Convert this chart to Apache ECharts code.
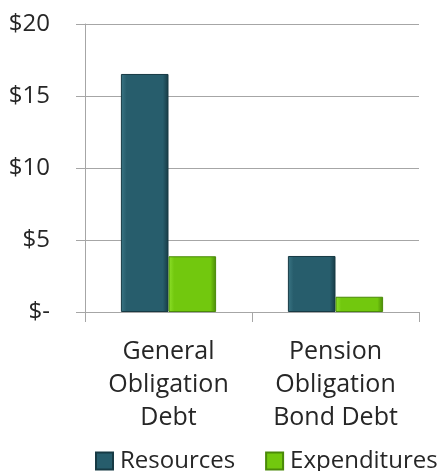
<!DOCTYPE html>
<html>
<head>
<meta charset="utf-8">
<script src="https://cdn.jsdelivr.net/npm/echarts@6/dist/echarts.min.js"></script>
<style>html,body{margin:0;padding:0;background:#fff}#c{width:440px;height:471px}</style>
</head>
<body>
<div id="c"></div>
<script>
const categories = ["General\nObligation\nDebt", "Pension\nObligation\nBond Debt"];
const resources = [16.53, 3.89];
const expenditures = [3.87, 1.06];
const yTicks = [0, 5, 10, 15, 20];
const yTickLabels = ["$-", "$5", "$10", "$15", "$20"];
const seriesNames = ["Resources", "Expenditures"];

const FONT = "'Open Sans', sans-serif";
const chart = echarts.init(document.getElementById('c'), null, {renderer: 'canvas'});

function barStyle(c1, c2, border) {
  return {
    color: new echarts.graphic.LinearGradient(0, 0, 1, 0, [
      {offset: 0, color: c1}, {offset: 0.12, color: c2}, {offset: 0.88, color: c2}, {offset: 1, color: border}
    ]),
    borderColor: border,
    borderWidth: 1
  };
}

chart.setOption({
  animation: false,
  textStyle: {fontFamily: FONT},
  grid: {left: 85, right: 21, top: 24, bottom: 159, containLabel: false},
  legend: {
    left: 95, top: 449, padding: 0, width: 345,
    itemWidth: 17, itemHeight: 17, itemGap: 30,
    icon: 'rect',
    textStyle: {fontSize: 24, color: '#262626', fontFamily: FONT, padding: [0, 0, 0, 2]},
    data: seriesNames
  },
  xAxis: {
    type: 'category',
    data: categories,
    axisLine: {show: true, lineStyle: {color: '#a6a6a6', width: 1}},
    axisTick: {show: true, length: 10, interval: 0, alignWithLabel: false, lineStyle: {color: '#a6a6a6'}},
    axisLabel: {fontSize: 25, color: '#262626', lineHeight: 33, margin: 23, interval: 0, fontFamily: FONT}
  },
  yAxis: {
    type: 'value',
    min: yTicks[0], max: yTicks[yTicks.length - 1], interval: 5,
    axisLine: {show: true, lineStyle: {color: '#a6a6a6', width: 1}},
    axisTick: {show: true, length: 9, lineStyle: {color: '#a6a6a6'}},
    splitLine: {show: true, lineStyle: {color: '#a6a6a6', width: 1}},
    axisLabel: {
      fontSize: 24, color: '#262626', margin: 35, fontFamily: FONT,
      formatter: function (v) { const i = yTicks.indexOf(v); return i >= 0 ? yTickLabels[i] : ''; }
    }
  },
  series: [
    {
      name: seriesNames[0], type: 'bar', data: resources,
      barGap: '0%', barCategoryGap: '43%',
      itemStyle: barStyle('#3a7584', '#275d6c', '#173a44')
    },
    {
      name: seriesNames[1], type: 'bar', data: expenditures,
      itemStyle: barStyle('#8ee02a', '#72c80e', '#4a8a08')
    }
  ]
});
</script>
</body>
</html>
